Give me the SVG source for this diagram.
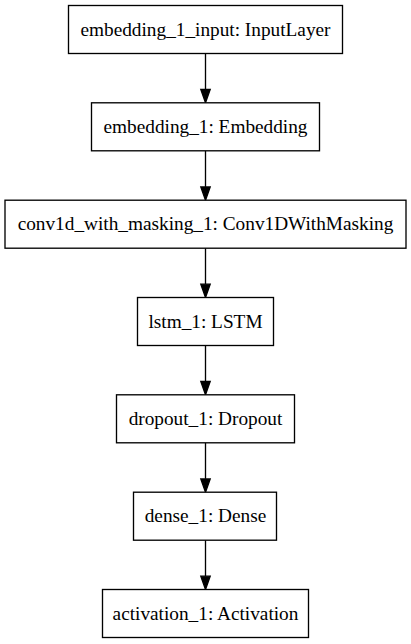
<svg xmlns="http://www.w3.org/2000/svg" width="411" height="644" viewBox="0 0 411 644">
<style>
.node rect{fill:#fff;stroke:#000;stroke-width:1.33}
.node text{font-family:"Liberation Serif","Times New Roman",serif;font-size:19.3px;text-anchor:middle;fill:#000}
.edge line{stroke:#000;stroke-width:1.33}
.edge polygon{fill:#000;stroke:#000;stroke-width:1.33}
</style>
<rect x="0" y="0" width="411" height="644" fill="#fff"/>
<g id="connectors">
<g class="edge"><line x1="205.5" y1="53.5" x2="205.5" y2="89.5"/><polygon points="200.8,89.5 210.2,89.5 205.5,102.8"/></g>
<g class="edge"><line x1="205.5" y1="150.8" x2="205.5" y2="186.9"/><polygon points="200.8,186.9 210.2,186.9 205.5,200.2"/></g>
<g class="edge"><line x1="205.5" y1="248.2" x2="205.5" y2="284.2"/><polygon points="200.8,284.2 210.2,284.2 205.5,297.5"/></g>
<g class="edge"><line x1="205.5" y1="345.5" x2="205.5" y2="381.5"/><polygon points="200.8,381.5 210.2,381.5 205.5,394.8"/></g>
<g class="edge"><line x1="205.5" y1="442.8" x2="205.5" y2="478.9"/><polygon points="200.8,478.9 210.2,478.9 205.5,492.2"/></g>
<g class="edge"><line x1="205.5" y1="540.2" x2="205.5" y2="576.2"/><polygon points="200.8,576.2 210.2,576.2 205.5,589.5"/></g>
</g>
<g id="embedding_1_input" class="node"><rect x="68.5" y="5.5" width="274" height="48"/><text x="205.5" y="35.5">embedding_1_input: InputLayer</text></g>
<g id="embedding_1" class="node"><rect x="91.5" y="102.8" width="228" height="48"/><text x="205.5" y="132.8">embedding_1: Embedding</text></g>
<g id="conv1d_with_masking_1" class="node"><rect x="5" y="200.2" width="401" height="48"/><text x="205.5" y="230.2">conv1d_with_masking_1: Conv1DWithMasking</text></g>
<g id="lstm_1" class="node"><rect x="137.5" y="297.5" width="136" height="48"/><text x="205.5" y="327.5">lstm_1: LSTM</text></g>
<g id="dropout_1" class="node"><rect x="116.5" y="394.8" width="178" height="48"/><text x="205.5" y="424.8">dropout_1: Dropout</text></g>
<g id="dense_1" class="node"><rect x="133.5" y="492.2" width="143" height="48"/><text x="205.5" y="522.2">dense_1: Dense</text></g>
<g id="activation_1" class="node"><rect x="102.5" y="589.5" width="206" height="48"/><text x="205.5" y="619.5">activation_1: Activation</text></g>
</svg>
